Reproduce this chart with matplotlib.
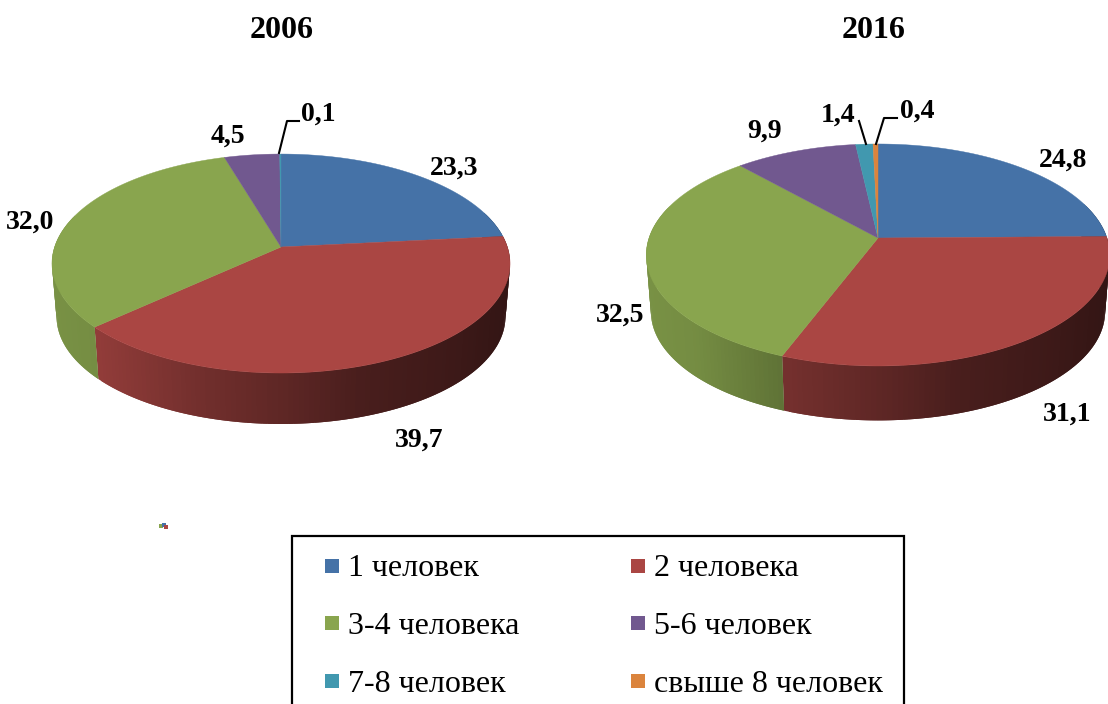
import numpy as np
import matplotlib
matplotlib.use("Agg")
import matplotlib.pyplot as plt
from matplotlib.patches import Polygon, Rectangle

plt.rcParams['font.family'] = ['Liberation Serif', 'DejaVu Serif']

# data
categories = ["1 человек", "2 человека", "3-4 человека", "5-6 человек", "7-8 человек", "свыше 8 человек"]
values_2006 = [23.3, 39.7, 32.0, 4.5, 0.1, 0.0]
values_2016 = [24.8, 31.1, 32.5, 9.9, 1.4, 0.4]
labels_2006 = ["23,3", "39,7", "32,0", "4,5", "0,1", ""]
labels_2016 = ["24,8", "31,1", "32,5", "9,9", "1,4", "0,4"]
colors = ["#4572A7", "#AA4643", "#89A54E", "#71588F", "#4198AF", "#DB843D"]

# side wall gets darker from left to right
shade_u = [0.0, 0.1, 0.3, 0.5, 0.66, 0.87, 1.0]
shade_f = [0.88, 0.85, 0.68, 0.55, 0.43, 0.36, 0.30]


def project(theta, cx, cy, a, b, k):
    # circle in perspective, theta clockwise from 12 o'clock
    X = np.sin(theta)
    Y = np.cos(theta)
    w = 1 + k * Y
    return cx + a * X / w, cy - b * Y / w


def draw_pie(ax, values, cx, cy, a, b, k, depth):
    total = sum(values)
    left = cx - a / np.sqrt(1 - k * k)
    width = 2 * a / np.sqrt(1 - k * k)
    start = 0.0
    slices = []
    for v, c in zip(values, colors):
        end = start + 2 * np.pi * v / total
        slices.append((start, end, c))
        start = end

    # side wall first, lid is painted over it
    for s, e, c in slices:
        if e <= s:
            continue
        n = max(2, int((e - s) / 0.02))
        th = np.linspace(s, e, n + 1)
        x1, y1 = project(th, cx, cy, a, b, k)
        x2, y2 = project(th, cx, cy, a * 0.98, b * 0.98, k)
        y2 = y2 + depth
        base = np.array(matplotlib.colors.to_rgb(c))
        for i in range(n):
            if np.cos(th[i]) > 0.3 and np.cos(th[i + 1]) > 0.3:
                continue
            u = ((x1[i] + x1[i + 1]) / 2 - left) / width
            col = base * np.interp(u, shade_u, shade_f)
            # each strip also covers the one before it, so no seams show
            p = max(i - 1, 0)
            pts = [(x1[p], y1[p]), (x1[i + 1], y1[i + 1]), (x2[i + 1], y2[i + 1]), (x2[p], y2[p])]
            ax.add_patch(Polygon(pts, closed=True, facecolor=col, edgecolor="none", linewidth=0, zorder=1))

    # top of the pie
    for s, e, c in slices:
        if e <= s:
            continue
        n = max(2, int((e - s) / 0.01))
        th = np.linspace(s, e, n + 1)
        x, y = project(th, cx, cy, a, b, k)
        pts = [(cx, cy)] + list(zip(x, y))
        ax.add_patch(Polygon(pts, closed=True, facecolor=c, edgecolor=c, linewidth=0.3, zorder=2))


fig = plt.figure(figsize=(11.08, 7.04), dpi=100)
ax = fig.add_axes([0, 0, 1, 1])
ax.set_xlim(0, 1108)
ax.set_ylim(704, 0)
ax.axis("off")

draw_pie(ax, values_2006, 281, 247, 226.4, 107, 0.151, 53.5)
draw_pie(ax, values_2016, 878, 238, 229, 108.4, 0.153, 57)

# titles
ax.text(282, 30, "2006", fontsize=23, fontweight="bold", ha="center", va="center")
ax.text(874, 30, "2016", fontsize=23, fontweight="bold", ha="center", va="center")

# value labels
pos_2006 = [(454, 168), (419, 440), (30, 222), (228, 136), (318, 114), None]
pos_2016 = [(1063, 160), (1067, 414), (620, 315), (765, 131), (838, 115), (917, 111)]
for labs, poss in ((labels_2006, pos_2006), (labels_2016, pos_2016)):
    for lab, p in zip(labs, poss):
        if p is not None:
            ax.text(p[0], p[1], lab, fontsize=20, fontweight="bold", ha="center", va="center", zorder=5)

# leader lines
ax.plot([279, 287, 299], [153, 121, 121], color="black", lw=1.5, zorder=4)
ax.plot([866, 859], [144, 121], color="black", lw=1.5, zorder=4)
ax.plot([876, 884, 897], [144, 118, 118], color="black", lw=1.5, zorder=4)

# legend, box runs off the bottom of the picture
ax.add_patch(Rectangle((292, 536), 612, 190, facecolor="white", edgecolor="black", linewidth=1.6, zorder=3))
marker_x = [332, 638]
text_x = [348, 654]
row_y = [566, 623, 681]
for i, (name, c) in enumerate(zip(categories, colors)):
    col = i % 2
    row = i // 2
    ax.scatter(marker_x[col], row_y[row], marker="s", s=95, color=c, linewidths=0, zorder=4)
    ax.text(text_x[col], row_y[row] + 3, name, fontsize=23, ha="left", va="center", zorder=4)

# small speck left of the legend
ax.scatter([161, 164, 166], [526, 525, 527], marker="s", s=[9, 5, 5], color=[colors[2], colors[0], colors[1]], linewidths=0)

fig.savefig("out.png", dpi=100)
